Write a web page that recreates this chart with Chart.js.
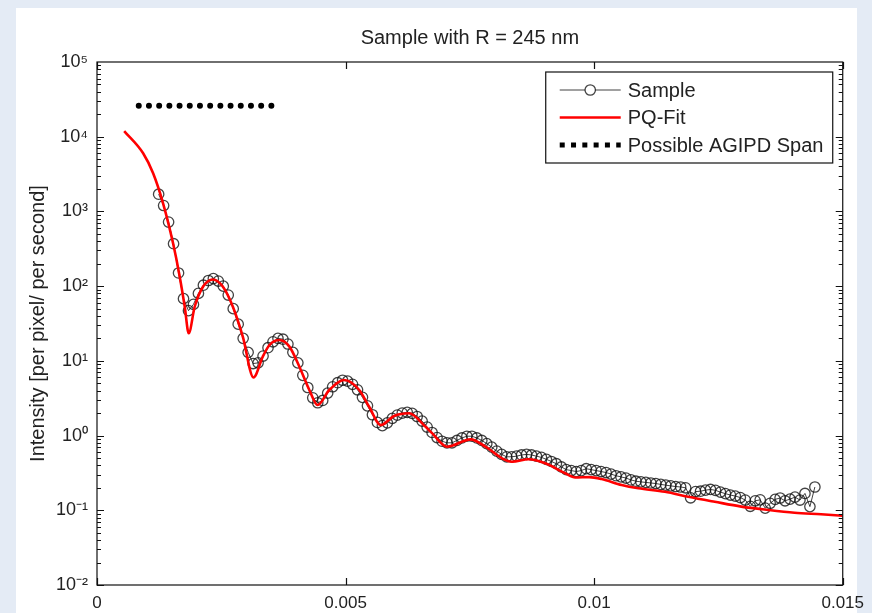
<!DOCTYPE html>
<html>
<head>
<meta charset="utf-8">
<script src="https://cdn.jsdelivr.net/npm/chart.js@4.4.1/dist/chart.umd.min.js"></script>
<style>
html, body { margin: 0; padding: 0; background: #e4ebf5; }
#panel { position: absolute; left: 16px; top: 8px; width: 841px; height: 605px; background: #fff; }
#graph-1 { position: absolute; left: 0; top: 0; }
</style>
</head>
<body>
<div id="panel"></div>
<canvas id="graph-1" width="872" height="613"></canvas>
<script>
// values (q in 1/nm, intensity per pixel per second)
const titleText = 'Sample with R = 245 nm';
const yTitle = 'Intensity [per pixel/ per second]';
const xTickVals = [0, 0.005, 0.01, 0.015];
const xTickLabels = ['0', '0.005', '0.01', '0.015'];
const yTickExp = [-2, -1, 0, 1, 2, 3, 4, 5];

const sampleQ = [
  0.00124, 0.00134, 0.00144, 0.00154, 0.00164, 0.00174, 0.00184, 0.00194, 0.00204, 0.00214,
  0.00224, 0.00234, 0.00244, 0.00254, 0.00264, 0.00274, 0.00284, 0.00294, 0.00304, 0.00314,
  0.00324, 0.00334, 0.00344, 0.00354, 0.00364, 0.00374, 0.00384, 0.00394, 0.00404, 0.00414,
  0.00424, 0.00434, 0.00444, 0.00454, 0.00464, 0.00474, 0.00484, 0.00494, 0.00504, 0.00514,
  0.00524, 0.00534, 0.00544, 0.00554, 0.00564, 0.00574, 0.00584, 0.00594, 0.00604, 0.00614,
  0.00624, 0.00634, 0.00644, 0.00654, 0.00664, 0.00674, 0.00684, 0.00694, 0.00704, 0.00714,
  0.00724, 0.00734, 0.00744, 0.00754, 0.00764, 0.00774, 0.00784, 0.00794, 0.00804, 0.00814,
  0.00824, 0.00834, 0.00844, 0.00854, 0.00864, 0.00874, 0.00884, 0.00894, 0.00904, 0.00914,
  0.00924, 0.00934, 0.00944, 0.00954, 0.00964, 0.00974, 0.00984, 0.00994, 0.01004, 0.01014,
  0.01024, 0.01034, 0.01044, 0.01054, 0.01064, 0.01074, 0.01084, 0.01094, 0.01104, 0.01114,
  0.01124, 0.01134, 0.01144, 0.01154, 0.01164, 0.01174, 0.01184, 0.01194, 0.01204, 0.01214,
  0.01224, 0.01234, 0.01244, 0.01254, 0.01264, 0.01274, 0.01284, 0.01294, 0.01304, 0.01314,
  0.01324, 0.01334, 0.01344, 0.01354, 0.01364, 0.01374, 0.01384, 0.01394, 0.01404, 0.01414,
  0.01424, 0.01434, 0.01444
];
const sampleI = [
  1700, 1200, 720, 370, 150, 68, 47, 57, 80, 103,
  119, 126, 117, 100, 76, 50, 31, 20, 13, 9.2,
  9.4, 11.6, 15, 18, 20, 19.5, 16.8, 13, 9.4, 6.4,
  4.4, 3.2, 2.75, 2.95, 3.7, 4.5, 5.1, 5.5, 5.35, 4.85,
  4.1, 3.25, 2.5, 1.9, 1.5, 1.36, 1.48, 1.7, 1.88, 2.0,
  2.05, 1.98, 1.8, 1.56, 1.3, 1.1, 0.94, 0.84, 0.8, 0.8,
  0.86, 0.93, 0.98, 0.98, 0.93, 0.86, 0.78, 0.7, 0.62, 0.56,
  0.52, 0.52, 0.53, 0.55, 0.56, 0.55, 0.53, 0.51, 0.48, 0.45,
  0.42, 0.38, 0.35, 0.34, 0.33, 0.34, 0.36, 0.35, 0.34, 0.33,
  0.32, 0.305, 0.29, 0.28, 0.27, 0.255, 0.245, 0.24, 0.236, 0.232,
  0.228, 0.222, 0.217, 0.212, 0.208, 0.205, 0.2, 0.147, 0.178, 0.18,
  0.186, 0.19, 0.185, 0.175, 0.167, 0.16, 0.155, 0.148, 0.137, 0.113,
  0.134, 0.138, 0.107, 0.124, 0.14, 0.146, 0.134, 0.141, 0.15, 0.137,
  0.168, 0.112, 0.205
];

const fitQ = [
  0.000547, 0.000928, 0.001129, 0.001329, 0.00153, 0.001664, 0.001765, 0.001845, 0.001965, 0.002132,
  0.002332, 0.002533, 0.002733, 0.002934, 0.003148, 0.003335, 0.003469, 0.00367, 0.00387, 0.004071,
  0.004271, 0.004438, 0.004672, 0.004973, 0.005274, 0.005474, 0.005709, 0.005975, 0.006276, 0.006611,
  0.006744, 0.007044, 0.007513, 0.007814, 0.008147, 0.008348, 0.008683, 0.009017, 0.009419, 0.009619,
  0.0099, 0.01015, 0.010553, 0.010888, 0.011424, 0.011891, 0.012426, 0.01296, 0.013495, 0.01403,
  0.014564, 0.015
];
const fitI = [
  11900, 6000, 3240, 1285, 374, 134, 53, 23.4, 53, 98,
  123, 98, 53, 21, 6.0, 11.4, 16.3, 19.0, 15.5, 8.35,
  4.07, 2.56, 4.07, 5.54, 4.07, 2.43, 1.38, 1.83, 1.99, 1.31,
  1.07, 0.71, 0.89, 0.71, 0.496, 0.447, 0.481, 0.425, 0.313, 0.275,
  0.278, 0.262, 0.218, 0.197, 0.177, 0.152, 0.13, 0.112, 0.101, 0.0927,
  0.0883, 0.0845
];

const spanQ = [0.00084, 0.00352];
const spanI = [26000, 26000];

const sup = {'-': '\u207B', '0': '\u2070', '1': '\u00B9', '2': '\u00B2', '3': '\u00B3', '4': '\u2074', '5': '\u2075'};
const fontFamily = '"Liberation Sans", Arial, Helvetica, sans-serif';
Chart.defaults.font.family = fontFamily;
Chart.defaults.color = '#222';

// box, inward ticks and minor log ticks, like the original axes
const frame = {
  id: 'frame',
  afterDatasetsDraw(chart) {
    const {ctx, chartArea: a, scales: {x, y}} = chart;
    ctx.save();
    ctx.strokeStyle = '#111';
    ctx.lineWidth = 1.2;
    ctx.beginPath();
    x.ticks.forEach(t => {
      const px = Math.round(x.getPixelForValue(t.value)) + 0.5;
      ctx.moveTo(px, a.bottom); ctx.lineTo(px, a.bottom - 7);
      ctx.moveTo(px, a.top); ctx.lineTo(px, a.top + 7);
    });
    const e0 = Math.round(Math.log10(y.min)), e1 = Math.round(Math.log10(y.max));
    for (let e = e0; e < e1; e++) {
      for (let k = 1; k < 10; k++) {
        const py = Math.round(y.getPixelForValue(k * Math.pow(10, e))) + 0.5;
        const len = k === 1 ? 7 : 4;
        ctx.moveTo(a.left, py); ctx.lineTo(a.left + len, py);
        ctx.moveTo(a.right, py); ctx.lineTo(a.right - len, py);
      }
    }
    ctx.stroke();
    ctx.strokeRect(a.left, a.top, a.right - a.left, a.bottom - a.top);
    ctx.restore();
  }
};

// boxed legend in the top right corner of the axes
const boxLegend = {
  id: 'boxLegend',
  afterDraw(chart) {
    const {ctx, chartArea: a} = chart;
    const right = a.right - 10, top = a.top + 10, w = 287, h = 91;
    const left = right - w;
    const x0 = left + 14, x1 = left + 75;
    ctx.save();
    ctx.fillStyle = '#fff';
    ctx.fillRect(left, top, w, h);
    ctx.strokeStyle = '#111';
    ctx.lineWidth = 1.2;
    ctx.strokeRect(left, top, w, h);
    ctx.font = '20px ' + fontFamily;
    ctx.textBaseline = 'middle';
    chart.data.datasets.forEach((ds, i) => {
      const yy = top + 18 + i * 27.5;
      ctx.beginPath();
      ctx.strokeStyle = ds.borderColor;
      ctx.lineWidth = ds.borderWidth;
      if (ds.borderDash && ds.borderDash.length) {
        ctx.lineWidth = 5;
        ctx.lineCap = 'butt';
        ctx.setLineDash([5, 6.3]);
      }
      ctx.moveTo(x0, yy); ctx.lineTo(x1, yy);
      ctx.stroke();
      ctx.setLineDash([]);
      if (ds.pointRadius > 0) {
        ctx.beginPath();
        ctx.lineWidth = ds.pointBorderWidth;
        ctx.strokeStyle = ds.pointBorderColor;
        ctx.fillStyle = '#fff';
        ctx.arc((x0 + x1) / 2, yy, ds.pointRadius, 0, Math.PI * 2);
        ctx.fill();
        ctx.stroke();
      }
      ctx.fillStyle = '#222';
      ctx.fillText(ds.label, left + 82, yy + 1);
    });
    ctx.restore();
  }
};

const ctx = document.getElementById('graph-1').getContext('2d');
const chart = new Chart(ctx, {
  type: 'line',
  data: {
    datasets: [{
      label: 'Sample',
      data: sampleQ.map((q, i) => ({x: q, y: sampleI[i]})),
      borderColor: '#111',
      borderWidth: 0.8,
      pointRadius: 5.2,
      pointBorderWidth: 1.3,
      pointBorderColor: 'rgba(20,20,20,0.8)',
      pointBackgroundColor: 'rgba(0,0,0,0)',
      order: 2
    }, {
      label: 'PQ-Fit',
      data: fitQ.map((q, i) => ({x: q, y: fitI[i]})),
      borderColor: '#ff0000',
      borderWidth: 2.6,
      pointRadius: 0,
      cubicInterpolationMode: 'monotone',
      order: 1
    }, {
      label: 'Possible AGIPD Span',
      data: spanQ.map((q, i) => ({x: q, y: spanI[i]})),
      borderColor: '#000',
      borderWidth: 6,
      borderDash: [0, 10.2],
      borderCapStyle: 'round',
      pointRadius: 0,
      order: 0
    }]
  },
  options: {
    responsive: false,
    animation: false,
    layout: { padding: { top: 0, right: 27, bottom: 0, left: 0 } },
    plugins: {
      legend: { display: false },
      tooltip: { enabled: false },
      title: {
        display: true,
        text: titleText,
        fullSize: false,
        color: '#222',
        font: { size: 20, weight: 'normal' },
        padding: { top: 26, bottom: 12 }
      }
    },
    scales: {
      x: {
        type: 'linear',
        min: 0,
        max: 0.015,
        grid: { display: false, drawTicks: false },
        border: { display: false },
        afterBuildTicks: s => { s.ticks = xTickVals.map(v => ({value: v})); },
        afterFit: s => { s.height = 28; },
        ticks: {
          padding: 8,
          maxRotation: 0,
          font: { size: 17 },
          color: '#222',
          callback: (v, i) => xTickLabels[i]
        }
      },
      y: {
        type: 'logarithmic',
        min: 0.01,
        max: 100000,
        grid: { display: false, drawTicks: false },
        border: { display: false },
        afterBuildTicks: s => { s.ticks = yTickExp.map(e => ({value: Math.pow(10, e)})); },
        afterFit: s => { s.width = 97; },
        ticks: {
          padding: 9,
          font: { size: 18 },
          color: '#222',
          callback: (v, i) => '10' + String(yTickExp[i]).split('').map(c => sup[c]).join('')
        },
        title: {
          display: true,
          text: yTitle,
          color: '#222',
          font: { size: 20 },
          padding: { top: 26, bottom: 0 }
        }
      }
    }
  },
  plugins: [frame, boxLegend]
});
</script>
</body>
</html>
